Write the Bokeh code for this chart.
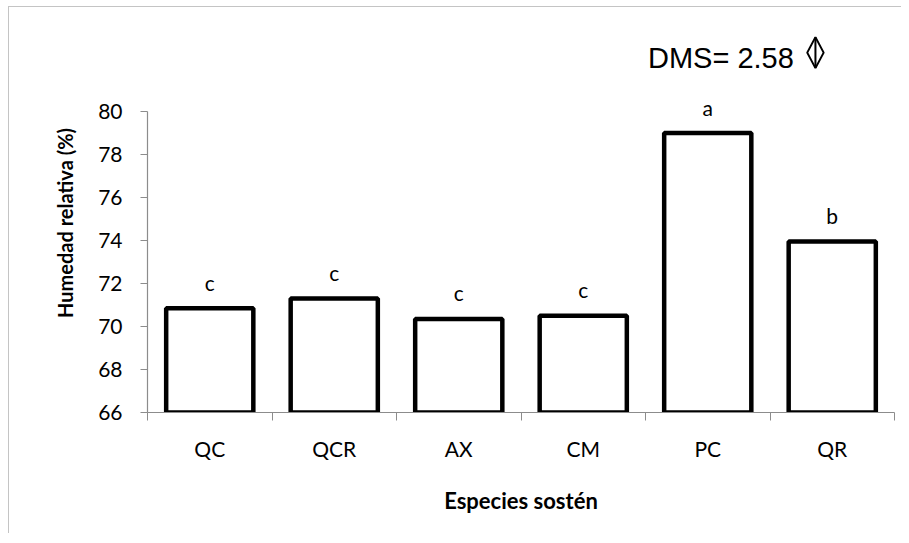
from bokeh.plotting import figure
from bokeh.models import FixedTicker, Range1d, Label, ColumnDataSource
from bokeh.embed import file_html
from bokeh.resources import INLINE
from bokeh.core.properties import value

# ---- data ----
categories = ["QC", "QCR", "AX", "CM", "PC", "QR"]
humedad = [70.85, 71.3, 70.35, 70.5, 79.0, 73.95]
letters = ["c", "c", "c", "c", "a", "b"]
y_ticks = [66, 68, 70, 72, 74, 76, 78, 80]
dms_value = 2.58

centers = [i + 0.5 for i in range(len(categories))]
boundaries = [float(i) for i in range(len(categories) + 1)]

FONT = "Lato"

p = figure(width=893, height=527, output_backend="svg", toolbar_location=None,
           x_range=Range1d(0, len(categories)), y_range=Range1d(66, 83.63),
           min_border_left=138, min_border_right=8, min_border_top=26, min_border_bottom=122,
           background_fill_color="white", border_fill_color="white")
p.outline_line_color = None
p.grid.visible = False
p.styles = {"border-left": "1.5px solid #c4c4c4", "border-top": "1.5px solid #c4c4c4",
            "margin-left": "8px", "margin-top": "6px"}

src = ColumnDataSource(dict(x=centers, top=humedad, lab=letters, cat=categories))
p.vbar(x="x", top="top", bottom=66, width=0.7, source=src,
       fill_color="white", line_color="black", line_width=4.5)
p.text(x="x", y="top", text="lab", source=src, text_align="center",
       text_baseline="alphabetic", y_offset=-26, text_font=value(FONT),
       text_font_size="21px", text_color="black")

# y axis
ya = p.yaxis[0]
ya.ticker = FixedTicker(ticks=y_ticks, minor_ticks=[])
ya.bounds = (66, 80)
ya.axis_line_color = "#8c8c8c"
ya.axis_line_width = 1.2
ya.major_tick_line_color = "#8c8c8c"
ya.major_tick_in = 0
ya.major_tick_out = 7
ya.major_label_standoff = 18
ya.major_label_text_font = FONT
ya.major_label_text_font_size = "21px"
ya.major_label_text_color = "black"
ya.axis_label = "Humedad relativa (%)"
ya.axis_label_text_font = FONT
ya.axis_label_text_font_style = "bold"
ya.axis_label_text_font_size = "20px"
ya.axis_label_text_color = "black"
ya.axis_label_standoff = 18

# x axis
xa = p.xaxis[0]
xa.ticker = FixedTicker(ticks=centers, minor_ticks=boundaries)
xa.major_label_overrides = {c: n for c, n in zip(centers, categories)}
xa.axis_line_color = "#8c8c8c"
xa.axis_line_width = 1.2
xa.major_tick_line_color = None
xa.major_tick_in = 0
xa.major_tick_out = 0
xa.minor_tick_line_color = "#8c8c8c"
xa.minor_tick_in = 0
xa.minor_tick_out = 8
xa.major_label_standoff = 15
xa.major_label_text_font = FONT
xa.major_label_text_font_size = "21px"
xa.major_label_text_color = "black"
xa.axis_label = "Especies sostén"
xa.axis_label_text_font = FONT
xa.axis_label_text_font_style = "bold"
xa.axis_label_text_font_size = "22px"
xa.axis_label_text_color = "black"
xa.axis_label_standoff = 23

# DMS annotation (text + diamond symbol)
p.add_layout(Label(x=4.02, y=82.5, text=f"DMS= {dms_value}", text_font="Liberation Sans",
                   text_font_size="29px", text_color="black", text_baseline="alphabetic"))
dx, dy, hw, hh = 5.365, 82.74, 0.066, 0.72
p.patch([dx - hw, dx, dx + hw, dx], [dy, dy + hh, dy, dy - hh],
        fill_color=None, line_color="black", line_width=2)
p.segment([dx], [dy - hh], [dx], [dy + hh], line_color="black", line_width=2)

open("out.html", "w").write(file_html(p, INLINE))
